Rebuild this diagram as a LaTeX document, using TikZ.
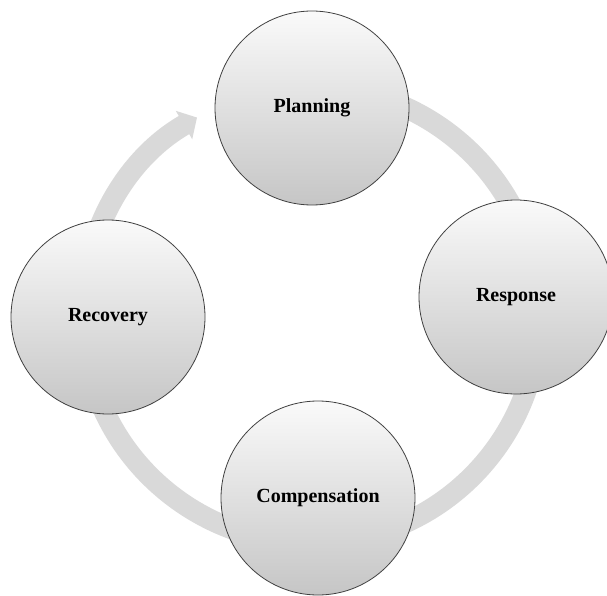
\documentclass[tikz,border=0pt]{standalone}
\usepackage{fontspec}
\setmainfont{Liberation Serif}
\usetikzlibrary{arrows.meta, positioning}

\begin{document}
\begin{tikzpicture}[x=1pt, y=1pt]
		\tikzstyle{stagec}=[circle, draw=black!75, line width=0.8pt, minimum size=194pt, inner sep=0pt, top color=gray!4, bottom color=gray!45, font=\bfseries\fontsize{20}{24}\selectfont]
		\tikzstyle{ringa}=[draw=gray!30, line width=21pt, -{Triangle[width=32pt, length=15pt]}]
		\useasboundingbox (0,0) rectangle (607,595);
		%%
		\coordinate (rc) at (311,280);
		\draw [ringa] (rc) ++(100:228) arc [start angle=100, end angle=-240, radius=228];
		%%
		\node (plan) at (312,487) [stagec] {Planning};
		\node (resp) at (516,298) [stagec] {Response};
		\node (comp) at (318,97) [stagec] {Compensation};
		\node (reco) at (108,278) [stagec] {Recovery};
\end{tikzpicture}
\end{document}
